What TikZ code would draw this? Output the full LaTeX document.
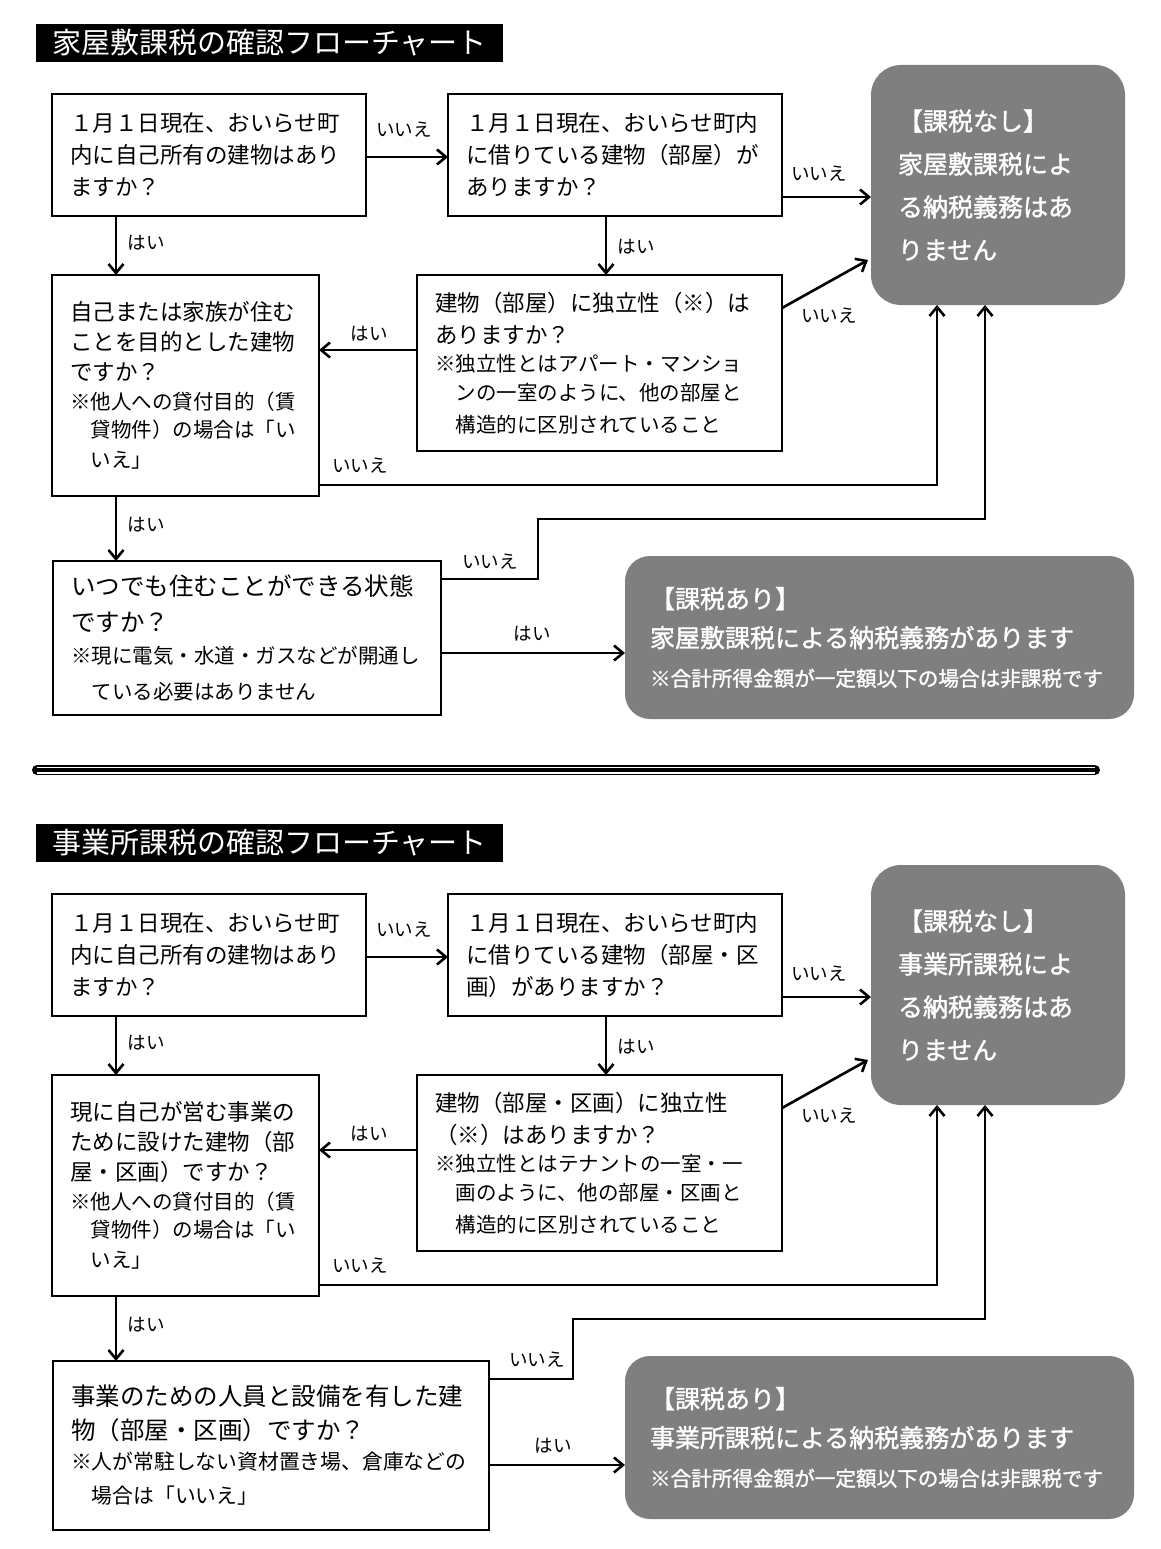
\documentclass[tikz,border=0pt]{standalone}
\usepackage{fontspec}
\setmainfont{Noto Sans CJK JP}
\newfontfamily\gmed[FakeBold=1.3]{Noto Sans CJK JP}
\usetikzlibrary{arrows.meta,calc}
\definecolor{boxgray}{RGB}{127,127,127}
\setlength{\parindent}{0pt}
\newcommand\myQ{\fontsize{22.5pt}{32pt}\selectfont}
\newcommand\myQb{\fontsize{22.5pt}{30pt}\selectfont}
\newcommand\myN{\fontsize{20.5pt}{28.5pt}\selectfont}
\newcommand\myC{\fontsize{24.5pt}{36pt}\selectfont}
\newcommand\myCb{\fontsize{24.5pt}{34pt}\selectfont}
\newcommand\myCN{\fontsize{20.5pt}{28pt}\selectfont}
\newcommand\myCNb{\fontsize{20.8pt}{30pt}\selectfont}
\newcommand\myG{\gmed\fontsize{25pt}{43pt}\selectfont}
\newcommand\myGa{\gmed\fontsize{25pt}{39pt}\selectfont}
\newcommand\myGN{\fontsize{20.6pt}{35pt}\selectfont}
\newcommand\myT{\fontsize{29pt}{32pt}\selectfont}
\newcommand\myL{\fontsize{18.5pt}{20pt}\selectfont}
\newcommand\ind{\hspace*{1em}}
\begin{document}
\begin{tikzpicture}[x=1pt,y=-1pt,
  qbox/.style={draw, line width=2.4pt, anchor=north west, inner xsep=18pt, inner ysep=0pt, outer sep=0pt, align=left},
  gbox/.style={fill=boxgray, text=white, anchor=north west, inner ysep=0pt, outer sep=0pt, align=left},
  ttl/.style={fill=black, text=white, anchor=north west, font=\myT, inner sep=0pt, outer sep=0pt},
  arr/.style={line width=2.6pt, -{Straight Barb[length=9pt,width=15pt]}},
  lbl/.style={font=\myL, inner sep=0pt}]
\fill[white] (0,0) rectangle (1161,1549);
\useasboundingbox (0,0) rectangle (1161,1549);

% ================= top section =================
\node[ttl, minimum width=467pt, minimum height=38pt] (T1) at (36,24) {家屋敷課税の確認フローチャート};

\node[qbox, text width=278pt, minimum height=122pt, font=\myQ] (A1) at (52,94)
 {１月１日現在、おいらせ町\par 内に自己所有の建物はあり\par ますか？};
\node[qbox, text width=298pt, minimum height=122pt, font=\myQ] (A2) at (448,94)
 {１月１日現在、おいらせ町内\par に借りている建物（部屋）が\par ありますか？};
\node[gbox, rounded corners=30pt, inner xsep=27pt, text width=200pt, minimum height=240pt, font=\myG] (N1) at (871,65)
 {【課税なし】\par 家屋敷課税によ\par る納税義務はあ\par りません};
\node[qbox, text width=231pt, minimum height=221pt, font=\myQb] (B1) at (52,275)
 {自己または家族が住む\par ことを目的とした建物\par ですか？\par\myN ※他人への貸付目的（賃\par\ind 貸物件）の場合は「い\par\ind いえ」};
\node[qbox, text width=329pt, minimum height=176pt, font=\myQ] (B2) at (417,275)
 {建物（部屋）に独立性（※）は\par ありますか？\par\myN ※独立性とはアパート・マンショ\par\ind ンの一室のように、他の部屋と\par\ind 構造的に区別されていること};
\node[qbox, text width=352pt, minimum height=154pt, font=\myC] (C1) at (53,561)
 {いつでも住むことができる状態\par ですか？\par\myCN\vspace{4pt}※現に電気・水道・ガスなどが開通し\par\ind ている必要はありません};
\node[gbox, rounded corners=25pt, inner xsep=25pt, text width=459pt, minimum height=163pt, font=\myGa] (Y1) at (625,556)
 {【課税あり】\par 家屋敷課税による納税義務があります\par\myGN ※合計所得金額が一定額以下の場合は非課税です};

\draw[arr] ($(A1.north east)+(0,63)$) -- ($(A2.north west)+(0,63)$);
\draw[arr] ($(A2.north east)+(0,103)$) -- ($(N1.north west)+(0,132)$);
\draw[arr] ($(A1.south west)+(64,0)$) -- ($(B1.north west)+(64,0)$);
\draw[arr] ($(A2.south west)+(158,0)$) -- ($(B2.north west)+(189,0)$);
\draw[arr] ($(B2.north west)+(0,75)$) -- ($(B1.north east)+(0,75)$);
\draw[arr] ($(B2.north east)+(0,33)$) -- ($(N1.south west)+(-3,-45)$);
\draw[arr] ($(B1.south east)+(0,-11)$) -| ($(N1.south west)+(66,0)$);
\draw[arr] ($(B1.south west)+(64,0)$) -- ($(C1.north west)+(63,0)$);
\draw[arr] ($(C1.north east)+(0,18)$) -- ++(97,0) -- ++(0,-60) -| ($(N1.south west)+(114,0)$);
\draw[arr] ($(C1.north east)+(0,92)$) -- ($(Y1.north west)+(0,97)$);

\node[lbl] (l1) at (404,130) {いいえ};
\node[lbl] (l2) at (819,174) {いいえ};
\node[lbl] (l3) at (146,243) {はい};
\node[lbl] (l4) at (636,247) {はい};
\node[lbl] (l5) at (369,334) {はい};
\node[lbl] (l6) at (829,316) {いいえ};
\node[lbl] (l7) at (360,466) {いいえ};
\node[lbl] (l8) at (146,525) {はい};
\node[lbl] (l9) at (490,562) {いいえ};
\node[lbl] (l10) at (532,634) {はい};

% ================= separator =================
\coordinate (sepL) at (37,770);
\coordinate (sepR) at (1095,770);
\draw[line width=10pt, line cap=round] (sepL) -- (sepR);
\draw[line width=7pt, white] (sepL) -- (sepR);
\draw[line width=4pt] (sepL) -- (sepR);

% ================= bottom section =================
\node[ttl, minimum width=467pt, minimum height=38pt] (T2) at (36,824) {事業所課税の確認フローチャート};

\node[qbox, text width=278pt, minimum height=122pt, font=\myQ] (D1) at (52,894)
 {１月１日現在、おいらせ町\par 内に自己所有の建物はあり\par ますか？};
\node[qbox, text width=298pt, minimum height=122pt, font=\myQ] (D2) at (448,894)
 {１月１日現在、おいらせ町内\par に借りている建物（部屋・区\par 画）がありますか？};
\node[gbox, rounded corners=30pt, inner xsep=27pt, text width=200pt, minimum height=240pt, font=\myG] (N2) at (871,865)
 {【課税なし】\par 事業所課税によ\par る納税義務はあ\par りません};
\node[qbox, text width=231pt, minimum height=221pt, font=\myQb] (E1) at (52,1075)
 {現に自己が営む事業の\par ために設けた建物（部\par 屋・区画）ですか？\par\myN ※他人への貸付目的（賃\par\ind 貸物件）の場合は「い\par\ind いえ」};
\node[qbox, text width=329pt, minimum height=176pt, font=\myQ] (E2) at (417,1075)
 {建物（部屋・区画）に独立性\par （※）はありますか？\par\myN ※独立性とはテナントの一室・一\par\ind 画のように、他の部屋・区画と\par\ind 構造的に区別されていること};
\node[qbox, text width=400pt, minimum height=169pt, font=\myCb] (F1) at (53,1361)
 {事業のための人員と設備を有した建\par 物（部屋・区画）ですか？\par\myCNb ※人が常駐しない資材置き場、倉庫などの\par\ind 場合は「いいえ」};
\node[gbox, rounded corners=25pt, inner xsep=25pt, text width=459pt, minimum height=163pt, font=\myGa] (Y2) at (625,1356)
 {【課税あり】\par 事業所課税による納税義務があります\par\myGN ※合計所得金額が一定額以下の場合は非課税です};

\draw[arr] ($(D1.north east)+(0,63)$) -- ($(D2.north west)+(0,63)$);
\draw[arr] ($(D2.north east)+(0,103)$) -- ($(N2.north west)+(0,132)$);
\draw[arr] ($(D1.south west)+(64,0)$) -- ($(E1.north west)+(64,0)$);
\draw[arr] ($(D2.south west)+(158,0)$) -- ($(E2.north west)+(189,0)$);
\draw[arr] ($(E2.north west)+(0,75)$) -- ($(E1.north east)+(0,75)$);
\draw[arr] ($(E2.north east)+(0,33)$) -- ($(N2.south west)+(-3,-45)$);
\draw[arr] ($(E1.south east)+(0,-11)$) -| ($(N2.south west)+(66,0)$);
\draw[arr] ($(E1.south west)+(64,0)$) -- ($(F1.north west)+(63,0)$);
\draw[arr] ($(F1.north east)+(0,18)$) -- ++(84,0) -- ++(0,-60) -| ($(N2.south west)+(114,0)$);
\draw[arr] ($(F1.north east)+(0,104)$) -- ($(Y2.north west)+(0,109)$);

\node[lbl] (m1) at (404,930) {いいえ};
\node[lbl] (m2) at (819,974) {いいえ};
\node[lbl] (m3) at (146,1043) {はい};
\node[lbl] (m4) at (636,1047) {はい};
\node[lbl] (m5) at (369,1134) {はい};
\node[lbl] (m6) at (829,1116) {いいえ};
\node[lbl] (m7) at (360,1266) {いいえ};
\node[lbl] (m8) at (146,1325) {はい};
\node[lbl] (m9) at (537,1360) {いいえ};
\node[lbl] (m10) at (553,1446) {はい};
\end{tikzpicture}
\end{document}
